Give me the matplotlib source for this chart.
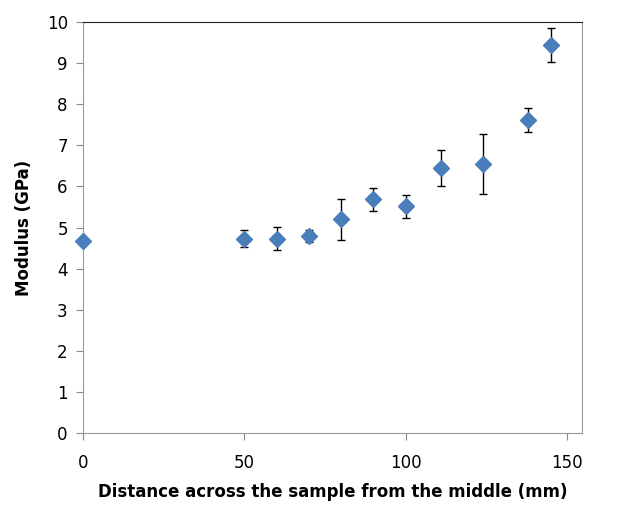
import matplotlib
matplotlib.use('Agg')
import matplotlib.pyplot as plt

# distance from middle (mm), modulus (GPa), error (GPa)
distance = [0, 50, 60, 70, 80, 90, 100, 111, 124, 138, 145]
modulus = [4.68, 4.73, 4.73, 4.79, 5.20, 5.69, 5.52, 6.44, 6.54, 7.62, 9.43]
error = [0, 0.20, 0.28, 0.15, 0.50, 0.28, 0.28, 0.44, 0.72, 0.29, 0.41]

plt.rcParams['font.family'] = ['DejaVu Sans']

fig = plt.figure(figsize=(6.34, 5.16), dpi=100)
ax = fig.add_axes([0.131, 0.160, 0.7865, 0.798])

eb = ax.errorbar(distance, modulus, yerr=error, fmt='D', color='#4a7ebb',
                 markersize=8.5, ecolor='black', elinewidth=1, capsize=3,
                 capthick=1, zorder=3)
for art in eb.lines[0:1]:
    art.set_clip_on(False)

ax.set_xlim(0, 154.6)
ax.set_ylim(0, 10)
ax.set_xticks([0, 50, 100, 150])
ax.set_yticks(range(0, 11))
ax.tick_params(labelsize=12, direction='out', length=5, color='#888888', pad=6)
ax.tick_params(axis='x', pad=10)

for side in ['left', 'bottom', 'right']:
    ax.spines[side].set_color('#999999')
ax.spines['top'].set_color('#222222')

ax.set_xlabel('Distance across the sample from the middle (mm)', fontsize=12,
              fontweight='bold', labelpad=8)
ax.set_ylabel('Modulus (GPa)', fontsize=12, fontweight='bold', labelpad=10)

fig.savefig('out.png', dpi=100)
